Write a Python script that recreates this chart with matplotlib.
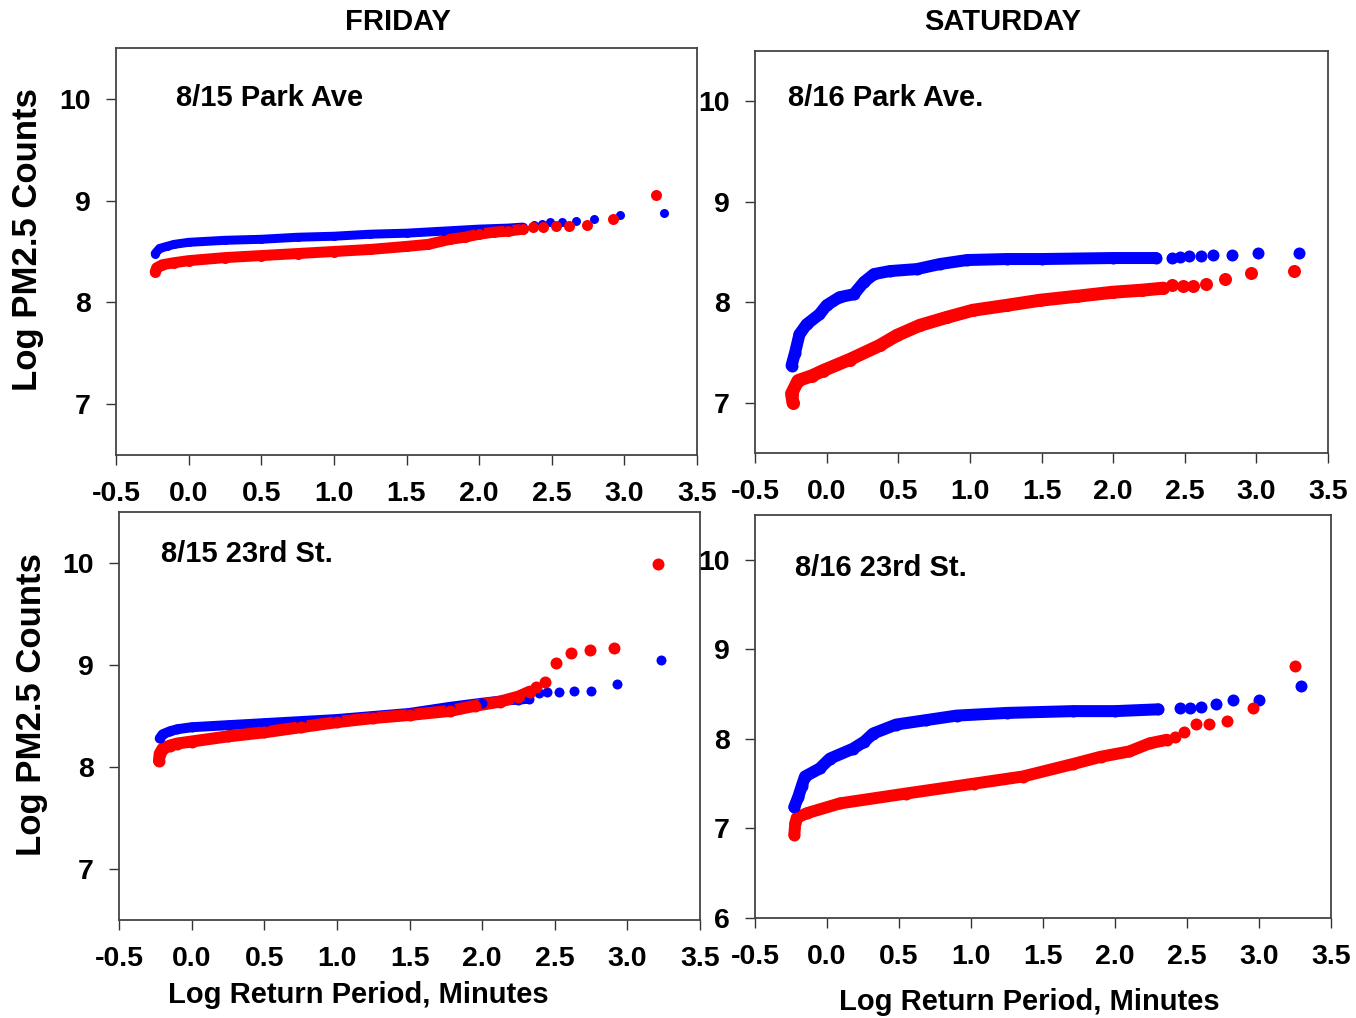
import matplotlib
matplotlib.use("Agg")
import matplotlib.pyplot as plt

plt.rcParams["font.family"] = ["Liberation Sans", "DejaVu Sans"]
plt.rcParams["font.weight"] = "bold"

# ── data (x = log return period, y = log PM2.5) ─────────────────────────────
# Friday 8/15 Park Ave
fri_park_blue_x = [-0.23, -0.2, -0.15, -0.1, 0.0, 0.25, 0.5, 0.75, 1.0, 1.25, 1.5,
                   1.75, 2.0, 2.2, 2.3, 2.38, 2.43, 2.49, 2.57, 2.67, 2.79, 2.97, 3.27]
fri_park_blue_y = [8.48, 8.53, 8.55, 8.57, 8.59, 8.61, 8.62, 8.64, 8.65, 8.67, 8.68,
                   8.70, 8.72, 8.73, 8.74, 8.76, 8.77, 8.79, 8.79, 8.80, 8.82, 8.86, 8.88]
fri_park_red_x = [-0.23, -0.22, -0.18, -0.1, 0.0, 0.25, 0.5, 0.75, 1.0, 1.25, 1.5,
                  1.65, 1.8, 1.9, 2.0, 2.1, 2.2, 2.3, 2.37, 2.44, 2.53, 2.62, 2.74,
                  2.92, 3.22]
fri_park_red_y = [8.30, 8.34, 8.37, 8.39, 8.41, 8.44, 8.46, 8.48, 8.50, 8.52, 8.55,
                  8.57, 8.62, 8.64, 8.67, 8.69, 8.70, 8.72, 8.74, 8.74, 8.75, 8.75, 8.76,
                  8.82, 9.06]

# Saturday 8/16 Park Ave.
sat_park_blue_x = [-0.245, -0.22, -0.19, -0.14, -0.05, 0.0, 0.09, 0.19, 0.26, 0.33,
                   0.44, 0.63, 0.79, 0.98, 1.26, 1.5, 2.0, 2.3, 2.41, 2.47, 2.53, 2.61,
                   2.70, 2.83, 3.01, 3.30]
sat_park_blue_y = [7.37, 7.50, 7.68, 7.78, 7.88, 7.97, 8.05, 8.08, 8.20, 8.28,
                   8.31, 8.33, 8.38, 8.42, 8.43, 8.43, 8.44, 8.44, 8.44, 8.45, 8.46, 8.46,
                   8.47, 8.47, 8.49, 8.49]
sat_park_red_x = [-0.235, -0.245, -0.2, -0.1, -0.025, 0.16, 0.37, 0.49, 0.65, 0.84,
                  1.02, 1.26, 1.49, 1.75, 2.0, 2.2, 2.35, 2.41, 2.49, 2.56, 2.65, 2.78,
                  2.96, 3.26]
sat_park_red_y = [7.00, 7.09, 7.22, 7.27, 7.32, 7.43, 7.57, 7.67, 7.77, 7.85,
                  7.92, 7.97, 8.02, 8.06, 8.10, 8.12, 8.14, 8.17, 8.16, 8.16, 8.18, 8.23,
                  8.29, 8.31]

# Friday 8/15 23rd St.
fri_23_blue_x = [-0.22, -0.2, -0.15, -0.1, 0.0, 0.25, 0.5, 0.75, 1.0, 1.25, 1.5,
                 1.78, 2.0, 2.12, 2.25, 2.32, 2.39, 2.45, 2.53, 2.63, 2.75, 2.93, 3.23]
fri_23_blue_y = [8.28, 8.32, 8.35, 8.37, 8.39, 8.41, 8.43, 8.45, 8.47, 8.50, 8.53,
                 8.59, 8.63, 8.65, 8.66, 8.67, 8.73, 8.74, 8.74, 8.75, 8.75, 8.81, 9.05]
fri_23_red_x = [-0.225, -0.22, -0.2, -0.15, -0.1, 0.0, 0.25, 0.5, 0.75, 1.0, 1.25,
                1.5, 1.78, 1.95, 2.12, 2.25, 2.33, 2.37, 2.43, 2.51, 2.61, 2.74, 2.91,
                3.21]
fri_23_red_y = [8.06, 8.13, 8.18, 8.21, 8.23, 8.25, 8.30, 8.34, 8.39, 8.44, 8.48,
                8.51, 8.55, 8.60, 8.64, 8.69, 8.74, 8.78, 8.83, 9.02, 9.12, 9.15, 9.17,
                9.99]

# Saturday 8/16 23rd St.
sat_23_blue_x = [-0.227, -0.2, -0.176, -0.153, -0.05, 0.02, 0.18, 0.26, 0.32, 0.48,
                 0.69, 0.90, 1.25, 1.71, 2.0, 2.3, 2.45, 2.52, 2.60, 2.70, 2.82, 3.00,
                 3.29]
sat_23_blue_y = [7.24, 7.35, 7.47, 7.58, 7.67, 7.78, 7.89, 7.97, 8.06, 8.16,
                 8.21, 8.26, 8.29, 8.31, 8.31, 8.33, 8.34, 8.34, 8.36, 8.39, 8.43, 8.43,
                 8.59]
sat_23_red_x = [-0.227, -0.22, -0.21, -0.14, 0.09, 0.55, 1.02, 1.36, 1.71, 1.90, 2.1,
                2.24, 2.36, 2.42, 2.48, 2.56, 2.65, 2.78, 2.96, 3.25]
sat_23_red_y = [6.93, 7.06, 7.12, 7.17, 7.28, 7.39, 7.50, 7.58, 7.72, 7.80, 7.86,
                7.95, 7.99, 8.02, 8.08, 8.17, 8.17, 8.20, 8.34, 8.81]

panel_labels = ["8/15 Park Ave", "8/16 Park Ave.", "8/15 23rd St.", "8/16 23rd St."]
day_titles = ["FRIDAY", "SATURDAY"]
y_label = "Log PM2.5 Counts"
x_label = "Log Return Period, Minutes"
x_ticks = [-0.5, 0.0, 0.5, 1.0, 1.5, 2.0, 2.5, 3.0, 3.5]

BLUE = "#0000ff"
RED = "#ff0000"
DENSE_END = 2.36    # beyond this the ranks are drawn as separate dots


def draw_series(ax, xs, ys, color, size_px):
    pt = size_px * 0.72
    dense = [(x, y) for x, y in zip(xs, ys) if x <= DENSE_END]
    ax.plot([p[0] for p in dense], [p[1] for p in dense], color=color,
            linewidth=pt, solid_capstyle="round", solid_joinstyle="round", zorder=2)
    ax.scatter(xs, ys, s=pt ** 2, color=color, linewidths=0, zorder=3)


def style_axes(ax, ylim, yticks):
    ax.set_xlim(-0.5, 3.5)
    ax.set_ylim(*ylim)
    ax.set_xticks(x_ticks)
    ax.set_xticklabels([f"{t:.1f}" for t in x_ticks])
    ax.set_yticks(yticks)
    ax.tick_params(axis="x", direction="out", length=7, width=1, pad=12,
                   labelsize=20.5, colors="#333333", labelcolor="black")
    ax.tick_params(axis="y", direction="out", length=7, width=1, pad=11,
                   labelsize=20.5, colors="#333333", labelcolor="black")
    for s in ax.spines.values():
        s.set_color("#444444")
        s.set_linewidth(1.3)


fig = plt.figure(figsize=(13.56, 10.18), dpi=100)
W, H = 1356.0, 1018.0


def add_ax(l, t, r, b):
    return fig.add_axes([l / W, 1 - b / H, (r - l) / W, (b - t) / H])


def fig_text(x, y, s, **kw):
    fig.text(x / W, 1 - y / H, s, fontweight="bold", **kw)


# ── top left: Friday Park Ave ────────────────────────────────────────────────
ax = add_ax(116, 48, 697, 455)
draw_series(ax, fri_park_blue_x, fri_park_blue_y, BLUE, 9)
draw_series(ax, fri_park_red_x, fri_park_red_y, RED, 11)
style_axes(ax, (6.5, 10.5), [7, 8, 9, 10])
fig_text(176, 98, panel_labels[0], fontsize=21, va="center", ha="left")

# ── top right: Saturday Park Ave. ────────────────────────────────────────────
ax = add_ax(755, 51, 1328, 453)
draw_series(ax, sat_park_blue_x, sat_park_blue_y, BLUE, 12)
draw_series(ax, sat_park_red_x, sat_park_red_y, RED, 13)
style_axes(ax, (6.5, 10.5), [7, 8, 9, 10])
fig_text(788, 98, panel_labels[1], fontsize=21, va="center", ha="left")

# ── bottom left: Friday 23rd St. ────────────────────────────────────────────
ax = add_ax(119, 512, 700, 920)
draw_series(ax, fri_23_blue_x, fri_23_blue_y, BLUE, 10)
draw_series(ax, fri_23_red_x, fri_23_red_y, RED, 12)
style_axes(ax, (6.5, 10.5), [7, 8, 9, 10])
fig_text(161, 554, panel_labels[2], fontsize=21, va="center", ha="left")

# ── bottom right: Saturday 23rd St. ─────────────────────────────────────────
ax = add_ax(755, 515, 1331, 918)
draw_series(ax, sat_23_blue_x, sat_23_blue_y, BLUE, 12)
draw_series(ax, sat_23_red_x, sat_23_red_y, RED, 12)
style_axes(ax, (6.0, 10.5), [6, 7, 8, 9, 10])
fig_text(795, 568, panel_labels[3], fontsize=21, va="center", ha="left")

# ── shared labels and day titles ────────────────────────────────────────────
fig_text(28, 240, y_label, fontsize=25, rotation=90, ha="center", va="center")
fig_text(32, 705, y_label, fontsize=25, rotation=90, ha="center", va="center")
fig_text(358, 995, x_label, fontsize=21, ha="center", va="center")
fig_text(1029, 1002, x_label, fontsize=21, ha="center", va="center")
fig_text(398, 22, day_titles[0], fontsize=21, ha="center", va="center")
fig_text(1003, 22, day_titles[1], fontsize=21, ha="center", va="center")

fig.savefig("out.png", dpi=100)
